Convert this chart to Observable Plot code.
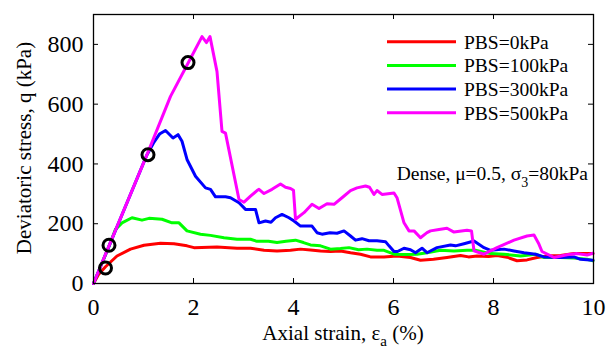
<!DOCTYPE html>
<html><head><meta charset="utf-8">
<script src="https://cdn.jsdelivr.net/npm/d3@7"></script>
<script src="https://cdn.jsdelivr.net/npm/@observablehq/plot@0.6"></script>
<style>body{margin:0;background:#fff} #chart{position:relative;width:610px;height:350px}</style>
</head><body><div id="chart"></div>
<script>
const series = ["PBS=0kPa", "PBS=100kPa", "PBS=300kPa", "PBS=500kPa"];
const colors = ["#ff0000", "#00ff00", "#0000ff", "#ff00ff"];
const xTicks = [0, 2, 4, 6, 8, 10];
const yTicks = [0, 200, 400, 600, 800];

const strain0 = [0, 0.1, 0.24, 0.47, 0.74, 1.01, 1.34, 1.61, 1.87, 2.01, 2.47, 2.87, 3.14, 3.41, 3.67, 3.94, 4.14, 4.34, 4.54, 4.74, 4.94, 5.14, 5.34, 5.54, 5.81, 6.07, 6.34, 6.54, 6.8, 7.07, 7.34, 7.5, 7.67, 7.9, 8.07, 8.27, 8.47, 8.67, 8.87, 9.07, 9.34, 9.61, 9.99];
const q0 = [0, 30, 56, 92, 115, 128, 135, 133, 126, 120, 122, 118, 118, 111, 109, 111, 115, 112, 109, 107, 109, 103, 98, 89, 89, 92, 87, 78, 81, 87, 94, 89, 92, 90, 94, 88, 76, 79, 87, 92, 94, 100, 100];

const strain100 = [0, 0.3, 0.44, 0.57, 0.77, 0.97, 1.11, 1.37, 1.57, 1.71, 1.87, 2.14, 2.34, 2.61, 2.87, 3.14, 3.27, 3.5, 3.67, 3.85, 4.04, 4.2, 4.34, 4.54, 4.74, 4.94, 5.11, 5.3, 5.47, 5.67, 5.81, 6.01, 6.27, 6.47, 6.67, 6.94, 7.21, 7.47, 7.64, 7.94, 8.21, 8.54, 8.84, 9.01, 9.34, 9.6, 9.87, 9.99];
const q100 = [0, 120, 181, 203, 220, 212, 218, 215, 203, 203, 176, 165, 161, 153, 148, 148, 141, 141, 137, 141, 145, 137, 129, 126, 115, 117, 120, 113, 115, 111, 111, 98, 97, 98, 103, 111, 109, 111, 111, 100, 98, 92, 98, 87, 87, 85, 81, 76];

const strain300 = [0, 0.3, 0.6, 1.07, 1.2, 1.32, 1.44, 1.59, 1.69, 1.77, 1.87, 2.04, 2.24, 2.34, 2.44, 2.64, 2.74, 2.91, 3.04, 3.24, 3.31, 3.44, 3.55, 3.64, 3.77, 3.91, 4.01, 4.14, 4.37, 4.47, 4.57, 4.73, 4.87, 5.01, 5.14, 5.24, 5.37, 5.51, 5.67, 5.84, 5.91, 6.01, 6.08, 6.21, 6.34, 6.44, 6.57, 6.67, 6.87, 7.14, 7.24, 7.41, 7.61, 7.81, 7.94, 8.21, 8.41, 8.61, 8.84, 9.01, 9.34, 9.61, 9.74, 9.99];
const q300 = [0, 121, 242, 431, 470, 500, 512, 487, 498, 476, 415, 359, 320, 315, 290, 290, 287, 270, 248, 248, 203, 209, 205, 220, 231, 220, 209, 192, 192, 170, 165, 170, 168, 176, 159, 145, 150, 143, 143, 140, 126, 107, 107, 118, 113, 103, 118, 103, 120, 129, 126, 133, 142, 120, 111, 115, 109, 103, 98, 89, 87, 89, 81, 78];

const strain500 = [0, 0.31, 1.07, 1.54, 1.89, 2.17, 2.26, 2.33, 2.47, 2.57, 2.64, 2.91, 3.01, 3.14, 3.27, 3.31, 3.41, 3.57, 3.74, 3.84, 3.94, 4.0, 4.04, 4.21, 4.37, 4.51, 4.67, 4.81, 4.97, 5.14, 5.27, 5.44, 5.52, 5.61, 5.67, 5.77, 6.01, 6.07, 6.21, 6.31, 6.41, 6.54, 6.67, 6.74, 6.91, 7.07, 7.21, 7.47, 7.56, 7.61, 7.81, 8.07, 8.41, 8.67, 8.81, 8.9, 8.97, 9.21, 9.47, 9.67, 9.87, 9.99];
const q500 = [0, 126, 431, 626, 737, 826, 806, 826, 709, 509, 503, 281, 272, 292, 311, 315, 301, 315, 333, 322, 318, 312, 215, 237, 265, 251, 267, 265, 287, 311, 320, 326, 322, 298, 311, 298, 303, 287, 203, 176, 176, 153, 170, 176, 181, 185, 172, 178, 176, 109, 98, 120, 145, 159, 162, 135, 107, 87, 96, 100, 95, 101];

const markerStrain = [0.24, 0.31, 1.09, 1.89];
const markerQ = [52, 128, 431, 739];

const strains = [strain0, strain100, strain300, strain500];
const qs = [q0, q100, q300, q500];
const rows = [];
series.forEach((s, i) => strains[i].forEach((x, j) => rows.push({series: s, strain: x, q: qs[i][j]})));
const markers = markerStrain.map((x, i) => ({strain: x, q: markerQ[i]}));

const FONT = "'Liberation Serif', 'Times New Roman', serif";

const plot = Plot.plot({
  width: 610, height: 350,
  marginLeft: 93, marginRight: 17, marginTop: 14, marginBottom: 67,
  style: {fontFamily: FONT, background: "white", color: "black"},
  x: {domain: [0, 10]},
  y: {domain: [0, 900]},
  color: {domain: series, range: colors},
  marks: [
    Plot.line(rows, {x: "strain", y: "q", z: "series", stroke: "series", strokeWidth: 3, strokeLinejoin: "round"}),
    Plot.dot(markers, {x: "strain", y: "q", r: 6, stroke: "black", strokeWidth: 3, fill: "none"}),
    Plot.tickX(xTicks, {x: d => d, insetTop: 264, stroke: "black"}),
    Plot.tickX(xTicks, {x: d => d, insetBottom: 264, stroke: "black"}),
    Plot.tickY(yTicks, {y: d => d, insetRight: 495, stroke: "black"}),
    Plot.tickY(yTicks, {y: d => d, insetLeft: 495, stroke: "black"}),
    Plot.frame({stroke: "black", strokeWidth: 1.3}),
    Plot.axisX({ticks: xTicks, tickSize: 0, tickPadding: 14, fontSize: 24, fontFamily: FONT, fontVariant: "normal", label: null}),
    Plot.axisY({ticks: yTicks, tickSize: 0, tickPadding: 10, fontSize: 24, fontFamily: FONT, fontVariant: "normal", label: null})
  ]
});

const svg = d3.select(plot);
const g = svg.append("g").style("font-family", FONT).attr("fill", "black");
series.forEach((s, i) => {
  const y = 41.7 + i * 23.7;
  g.append("line").attr("x1", 387).attr("x2", 456).attr("y1", y).attr("y2", y)
    .attr("stroke", colors[i]).attr("stroke-width", 3);
  g.append("text").attr("x", 464).attr("y", y).attr("dy", "0.35em").attr("text-anchor", "start")
    .style("font-size", "19.5px").text(s);
});
const ann = g.append("text").attr("x", 588).attr("y", 180).attr("text-anchor", "end").style("font-size", "19.5px");
ann.append("tspan").text("Dense, \u03bc=0.5, \u03c3");
ann.append("tspan").attr("dy", 7).style("font-size", "14px").text("3");
ann.append("tspan").attr("dy", -7).text("=80kPa");

const xl = g.append("text").attr("x", 343).attr("y", 340).attr("text-anchor", "middle").style("font-size", "21px");
xl.append("tspan").text("Axial strain, \u03b5");
xl.append("tspan").attr("dy", 6).style("font-size", "15px").text("a");
xl.append("tspan").attr("dy", -6).text(" (%)");

g.append("text").attr("transform", "translate(31,148) rotate(-90)").attr("text-anchor", "middle")
  .style("font-size", "21px").text("Deviatoric stress, q (kPa)");

document.getElementById("chart").appendChild(plot);
</script>
</body></html>
